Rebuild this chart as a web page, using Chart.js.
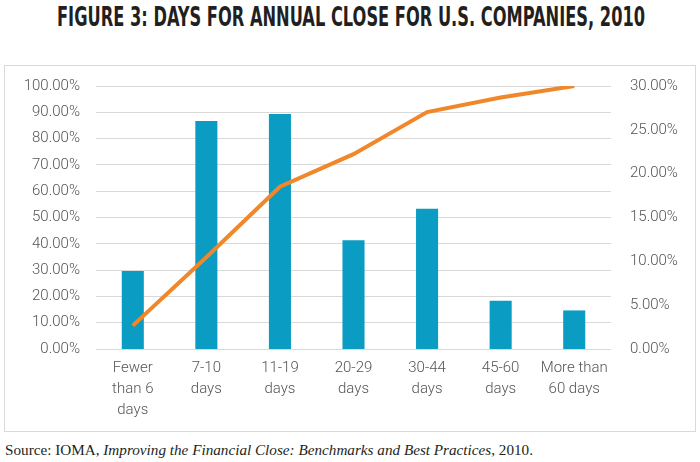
<!DOCTYPE html>
<html>
<head>
<meta charset="utf-8">
<script src="https://cdn.jsdelivr.net/npm/chart.js@4.4.0/dist/chart.umd.min.js"></script>
<style>
    body { margin: 0; width: 700px; height: 462px; background: #fff; position: relative; overflow: hidden; }
    #title {
        position: absolute; left: 57px; top: 1px; white-space: nowrap;
        font-family: "DejaVu Sans Condensed", "DejaVu Sans", sans-serif;
        font-weight: bold; font-size: 27px; color: #231f20;
        transform-origin: 0 0;
    }
    #box {
        position: absolute; left: 4px; top: 65px; width: 690px; height: 365px;
        border: 1px solid #d9d9d9;
    }
    #source {
        position: absolute; left: 5px; top: 441px; white-space: nowrap;
        font-family: "Liberation Serif", serif; font-size: 15.2px; color: #231f20;
    }
</style>
</head>
<body>
<div id="title">FIGURE 3: DAYS FOR ANNUAL CLOSE FOR U.S. COMPANIES, 2010</div>
<div id="box"><canvas id="chart" width="690" height="365"></canvas></div>
<div id="source">Source: IOMA, <i>Improving the Financial Close: Benchmarks and Best Practices</i>, 2010.</div>
<script>
var categories = [
    ['Fewer', 'than 6', 'days'],
    ['7-10', 'days'],
    ['11-19', 'days'],
    ['20-29', 'days'],
    ['30-44', 'days'],
    ['45-60', 'days'],
    ['More than', '60 days']
];
// share of companies (right axis)
var shareValues = [8.9, 26.0, 26.8, 12.4, 16.0, 5.5, 4.4];
// cumulative share (left axis)
var cumulativeValues = [8.9, 34.9, 61.7, 74.1, 90.1, 95.6, 100];

// squeeze the title into the condensed width of the original
var title = document.getElementById('title');
title.style.transform = 'scaleX(' + (588 / title.offsetWidth) + ')';

var labelFont = { family: 'Roboto, "Open Sans", sans-serif', size: 15, weight: 300 };
var catFont = { family: 'Roboto, "Open Sans", sans-serif', size: 15, weight: 300, lineHeight: 1.4 };
var labelColor = '#555555';

// fixed axis sizes, and no automatic label overflow padding
function fixSize(w, h) {
    return function (s) {
        if (w) s.width = w;
        if (h) s.height = h;
        s.paddingTop = 0;
        s.paddingBottom = 0;
    };
}

var ctx = document.getElementById('chart').getContext('2d');
var chart = new Chart(ctx, {
    type: 'bar',
    data: {
        labels: categories,
        datasets: [{
            type: 'line',
            label: 'Cumulative',
            data: cumulativeValues,
            yAxisID: 'y',
            borderColor: '#f0872a',
            borderWidth: 4,
            pointRadius: 0,
            fill: false,
            tension: 0,
            order: 0
        }, {
            type: 'bar',
            label: 'Share',
            data: shareValues,
            yAxisID: 'y1',
            backgroundColor: '#0a9cc3',
            categoryPercentage: 1,
            barPercentage: 0.3,
            order: 1
        }]
    },
    options: {
        responsive: false,
        animation: false,
        layout: { padding: { top: 20, left: 0, right: 0, bottom: 0 } },
        plugins: {
            legend: { display: false },
            tooltip: { enabled: false }
        },
        scales: {
            x: {
                grid: { display: false, drawTicks: false },
                border: { display: false },
                ticks: { color: labelColor, font: catFont, padding: 9, maxRotation: 0, autoSkip: false },
                afterFit: fixSize(0, 82)
            },
            y: {
                position: 'left',
                min: 0,
                max: 100,
                grid: { color: '#d9d9d9', lineWidth: 1, drawTicks: false },
                border: { display: false },
                ticks: {
                    stepSize: 10,
                    padding: 16,
                    color: labelColor,
                    font: labelFont,
                    callback: function (v) { return v.toFixed(2) + '%'; }
                },
                afterFit: fixSize(91, 0)
            },
            y1: {
                position: 'right',
                min: 0,
                max: 30,
                grid: { display: false, drawTicks: false },
                border: { display: false },
                ticks: {
                    stepSize: 5,
                    padding: 19,
                    color: labelColor,
                    font: labelFont,
                    callback: function (v) { return v.toFixed(2) + '%'; }
                },
                afterFit: fixSize(84, 0)
            }
        }
    }
});
</script>
</body>
</html>
